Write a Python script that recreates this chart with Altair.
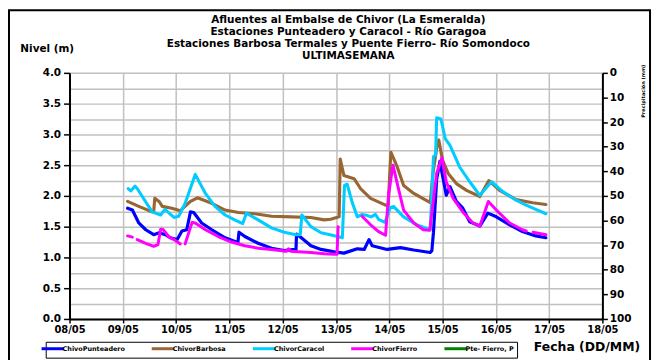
import altair as alt
import pandas as pd

# ---------------- data ----------------
series_names = ["ChivoPunteadero", "ChivorBarbosa", "ChivorCaracol", "ChivorFierro", "Pte- Fierro, P"]
series_colors = ["#0000FF", "#996633", "#00CCFF", "#FF00FF", "#008000"]
line_widths = [3.2, 3.0, 2.0, 3.2]

date_labels = ["08/05", "09/05", "10/05", "11/05", "12/05", "13/05",
               "14/05", "15/05", "16/05", "17/05", "18/05"]
start_date = "2024-05-08"

title_lines = [
    "Afluentes al Embalse de Chivor (La Esmeralda)",
    "Estaciones Punteadero y Caracol - Río Garagoa",
    "Estaciones Barbosa Termales y Puente Fierro- Río Somondoco",
    "ULTIMASEMANA",
]

# day offsets from 08/05 00:00 and level (m); None = gap in the record
punteadero_day = [1.09, 1.18, 1.30, 1.43, 1.58, 1.68, 1.80, 1.89, 2.02, 2.11, 2.20, 2.27, 2.33,
                  2.48, 2.67, 2.92, 3.13, 3.16, 3.18, 3.29, 3.54, 3.79, 4.03, 4.23, 4.25, 4.26,
                  4.35, 4.53, 4.72, 4.97, 5.15, 5.40, 5.53, 5.62, 5.68, 5.96, 6.21, 6.46, 6.77,
                  6.80, 6.83, 6.89, 6.95, 6.98, 7.07, 7.14, 7.26, 7.38, 7.51, 7.70, 7.85, 8.01,
                  8.26, 8.50, 8.75, 8.94]
punteadero_val = [1.80, 1.77, 1.56, 1.45, 1.37, 1.40, 1.37, 1.32, 1.29, 1.43, 1.45, 1.74, 1.73,
                  1.56, 1.45, 1.32, 1.25, 1.24, 1.41, 1.34, 1.23, 1.15, 1.11, 1.13, 1.12, 1.38,
                  1.32, 1.19, 1.13, 1.09, 1.07, 1.14, 1.13, 1.29, 1.19, 1.13, 1.16, 1.12, 1.08,
                  1.11, 1.41, 2.27, 2.56, 2.42, 2.01, 2.15, 1.91, 1.80, 1.58, 1.51, 1.72, 1.66,
                  1.53, 1.42, 1.35, 1.32]

barbosa_day = [1.09, 1.30, 1.55, 1.58, 1.60, 1.68, 1.74, 1.92, 2.08, 2.27, 2.40, 2.67, 2.92,
               3.17, 3.48, 3.79, 4.16, 4.53, 4.78, 4.90, 5.06, 5.08, 5.15, 5.34, 5.46, 5.65,
               5.93, 5.98, 6.03, 6.15, 6.27, 6.46, 6.77, 6.82, 6.89, 6.93, 7.00, 7.11, 7.26,
               7.45, 7.70, 7.87, 8.07, 8.38, 8.69, 8.94]
barbosa_val = [1.91, 1.83, 1.74, 1.75, 1.96, 1.91, 1.83, 1.80, 1.76, 1.91, 1.97, 1.88, 1.77,
               1.73, 1.71, 1.67, 1.66, 1.65, 1.61, 1.62, 1.66, 2.60, 2.33, 2.28, 2.12, 1.96,
               1.85, 1.84, 2.71, 2.47, 2.17, 2.04, 1.89, 2.36, 2.78, 2.91, 2.58, 2.36, 2.20,
               2.09, 1.99, 2.25, 2.09, 1.94, 1.89, 1.86]

caracol_day = [1.10, 1.15, 1.23, 1.27, 1.55, 1.71, 1.79, 1.96, 2.05, 2.17, 2.36, 2.55, 2.73,
               2.92, 3.10, 3.25, 3.32, 3.54, 3.79, 4.03, 4.25, 4.33, 4.36, 4.53, 4.72, 4.93,
               5.12, 5.16, 5.21, 5.31, 5.40, 5.49, 5.59, 5.66, 5.74, 5.80, 5.92, 6.02, 6.08,
               6.27, 6.52, 6.77, 6.83, 6.87, 6.89, 6.97, 7.05, 7.14, 7.32, 7.51, 7.70, 7.92,
               8.13, 8.38, 8.57, 8.75, 8.94]
caracol_val = [2.12, 2.08, 2.16, 2.12, 1.74, 1.69, 1.78, 1.65, 1.67, 1.88, 2.35, 2.04, 1.83,
               1.69, 1.61, 1.55, 1.72, 1.61, 1.48, 1.41, 1.37, 1.37, 1.69, 1.50, 1.40, 1.36,
               1.32, 2.17, 2.19, 1.88, 1.66, 1.70, 1.68, 1.66, 1.70, 1.62, 1.57, 1.81, 1.83,
               1.66, 1.53, 1.45, 2.64, 2.66, 3.27, 3.25, 2.93, 2.82, 2.47, 2.23, 2.01, 2.23,
               2.07, 1.93, 1.85, 1.78, 1.71]

fierro_day = [1.09, 1.18, None, 1.27, 1.43, 1.58, 1.66, 1.71, 1.75, 1.86, 1.96, 2.08, None,
              2.17, 2.30, 2.36, 2.55, 2.79, 3.04, 3.29, 3.54, 3.79, 4.07, 4.11, 4.15, 4.53,
              4.78, 4.97, 5.02, 5.04, None, 5.49, 5.65, 5.80, 5.93, 5.99, 6.07, 6.18, 6.27,
              6.46, 6.64, 6.76, 6.83, 6.89, 6.99, 7.07, 7.20, 7.38, 7.57, 7.70, 7.86, 8.01,
              8.26, 8.50, 8.57, None, 8.70, 8.94]
fierro_val = [1.35, 1.33, None, 1.29, 1.23, 1.18, 1.21, 1.46, 1.46, 1.34, 1.29, 1.22, None,
              1.22, 1.57, 1.56, 1.45, 1.34, 1.25, 1.19, 1.15, 1.13, 1.10, 1.14, 1.10, 1.08,
              1.06, 1.05, 1.05, 1.50, None, 1.67, 1.53, 1.42, 1.36, 2.04, 2.50, 2.09, 1.77,
              1.56, 1.45, 1.44, 1.95, 2.37, 2.62, 2.23, 1.96, 1.74, 1.56, 1.51, 1.91, 1.77,
              1.56, 1.45, 1.43, None, 1.41, 1.37]

# precipitation at Puente Fierro (mm): no values recorded in the displayed week
precip_day = []
precip_val = []

# ---------------- build tables ----------------
DAY_MS = 86400000
START_MS = int(pd.Timestamp(start_date, tz="UTC").value // 10**6)

rows = []
for name, days, vals in [
    (series_names[0], punteadero_day, punteadero_val),
    (series_names[1], barbosa_day, barbosa_val),
    (series_names[2], caracol_day, caracol_val),
    (series_names[3], fierro_day, fierro_val),
]:
    seg = 0
    for d, v in zip(days, vals):
        if d is None or v is None:
            seg += 1
            continue
        rows.append({"t": START_MS + d * DAY_MS, "nivel": v, "serie": name,
                     "seg": f"{name}-{seg}"})
levels = pd.DataFrame(rows)
precip = pd.DataFrame({"t": [START_MS + d * DAY_MS for d in precip_day],
                       "p": precip_val}, columns=["t", "p"])

tick_ms = [START_MS + i * DAY_MS for i in range(len(date_labels))]
label_expr = ("[" + ",".join(f"'{s}'" for s in date_labels) + "]"
              f"[round((datum.value - {START_MS}) / {DAY_MS})]")

FONT = "DejaVu Sans"
GRID = "#c0c0c0"
AXIS_FS = 10.5

W, H = 537, 248

x_enc = alt.X(
    "t:T",
    scale=alt.Scale(type="utc", domain=[tick_ms[0], tick_ms[-1]], nice=False),
    axis=alt.Axis(
        values=tick_ms, labelExpr=label_expr, grid=True, gridColor=GRID, gridWidth=1.5,
        domainColor="black", domainWidth=2, tickColor="black", tickSize=4, tickWidth=1.5,
        labelFont=FONT, labelFontWeight="bold", labelFontSize=10, labelColor="black",
        labelPadding=2, labelFlush=False,
        title="Fecha (DD/MM)", titleFont=FONT, titleFontWeight="bold", titleFontSize=12.5,
        titleColor="black", titleX=521, titleY=28, titleAlign="center",
        titleBaseline="middle",
    ),
)

lines = alt.Chart(levels).mark_line(strokeJoin="round", strokeCap="round").encode(
    x=x_enc,
    y=alt.Y(
        "nivel:Q",
        scale=alt.Scale(domain=[0, 4], nice=False),
        axis=alt.Axis(
            values=[i * 0.25 for i in range(17)],
            labelExpr="datum.value % 0.5 === 0 ? format(datum.value, '.1f') : ''",
            tickOpacity={"condition": {"test": "datum.value % 0.5 !== 0", "value": 0}, "value": 1},
            grid=True, gridColor=GRID, gridWidth=1.5,
            domainColor="black", domainWidth=2, tickColor="black", tickSize=6, tickWidth=1.5,
            labelFont=FONT, labelFontWeight="bold", labelFontSize=AXIS_FS, labelColor="black",
            labelPadding=3,
            title="Nivel (m)", titleFont=FONT, titleFontWeight="bold", titleFontSize=10.5,
            titleColor="black", titleAngle=0, titleX=-23, titleY=-25, titleAlign="center",
            titleBaseline="middle",
        ),
    ),
    color=alt.Color(
        "serie:N",
        scale=alt.Scale(domain=series_names, range=series_colors),
        legend=alt.Legend(
            title=None, orient="none", legendX=-24, legendY=271, direction="horizontal",
            columns=5, symbolType="M-5,0L5,0", symbolSize=20, symbolStrokeWidth=3,
            labelFont=FONT, labelFontWeight="bold", labelFontSize=6.5, labelColor="black",
            labelOffset=6, columnPadding=20, padding=3, strokeColor="black",
            fillColor="white", rowPadding=0,
        ),
    ),
    size=alt.Size("serie:N", scale=alt.Scale(domain=series_names[:4], range=line_widths),
                  legend=None),
    detail="seg:N",
)

rain = alt.Chart(precip).mark_point(filled=True, color=series_colors[4], size=10).encode(
    x=alt.X("t:T"),
    y=alt.Y(
        "p:Q",
        scale=alt.Scale(domain=[0, 100], reverse=True, nice=False),
        axis=alt.Axis(
            orient="right", values=list(range(0, 101, 10)), grid=False,
            domainColor="black", domainWidth=2, tickColor="black", tickSize=5, tickWidth=1.5,
            labelFont=FONT, labelFontWeight="bold", labelFontSize=AXIS_FS, labelColor="black",
            labelPadding=2,
            title="Precipitación (mm)", titleFont=FONT, titleFontWeight="bold",
            titleFontSize=5, titleColor="black", titleAngle=270, titleX=40, titleY=18,
            titleAlign="center", titleBaseline="middle",
        ),
    ),
)

one = pd.DataFrame({"k": [0]})

frame = alt.Chart(one).mark_rect(
    fillOpacity=0, stroke="black", strokeWidth=2
).encode(
    x=alt.value(-61), x2=alt.value(585), y=alt.value(-63), y2=alt.value(310)
)

title_layers = [
    alt.Chart(one).mark_text(
        text=line, font=FONT, fontSize=10.5, fontWeight="bold", color="black",
        align="center", baseline="middle",
    ).encode(x=alt.value(281), y=alt.value(-53 + 12 * i))
    for i, line in enumerate(title_lines)
]

chart = (
    alt.layer(frame, *title_layers, lines, rain)
    .resolve_scale(y="independent")
    .properties(
        width=W, height=H,
        autosize=alt.AutoSizeParams(type="none"),
        padding={"left": 62, "top": 64, "right": 51, "bottom": 40},
    )
    .configure_view(stroke=None)
    .configure(background="white")
)

chart.save("out.html", embed_options={"renderer": "svg", "actions": False})
